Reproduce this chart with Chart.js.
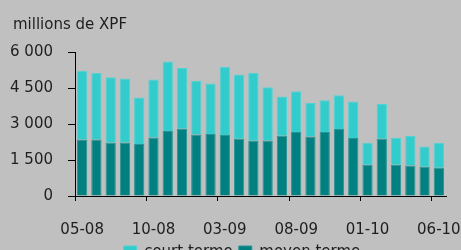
<!DOCTYPE html>
<html>
<head>
<meta charset="utf-8">
<script src="https://cdn.jsdelivr.net/npm/chart.js@4"></script>
<style>
  html,body{margin:0;padding:0;background:#c0c0c0;overflow:hidden}
  #wrap{width:461px;height:270px}
</style>
</head>
<body>
<div id="wrap"><canvas id="chart"></canvas></div>
<script>
const months = ["05-08","06-08","07-08","08-08","09-08","10-08","11-08","12-08",
  "01-09","02-09","03-09","04-09","05-09","06-09","07-09","08-09","09-09","10-09","11-09","12-09",
  "01-10","02-10","03-10","04-10","05-10","06-10"]
const moyenTerme = [2357,2357,2218,2230,2163,2442,2707,2805,2567,2581,2539,2386,2302,2316,2512,2665,2484,2665,2791,2414,1298,2386,1298,1270,1214,1172]
const courtTerme = [2863,2763,2735,2668,1939,2414,2902,2525,2233,2107,2847,2679,2819,2219,1632,1702,1395,1325,1409,1521,921,1451,1130,1228,851,1047]
const yTicks = [0,1500,3000,4500,6000]

const font = { family:"DejaVu Sans", size:15, weight:"normal" }
const textColor = "#1e1e1e"

function spaced(v){
  return String(v).replace(/\B(?=(\d{3})+(?!\d))/g," ")
}

// nudge title and legend sideways, like in the original layout
const nudge = {
  id:"nudge",
  afterLayout(chart){
    chart.titleBlock.left += 3
    chart.titleBlock.right += 3
    chart.legend.left += 14
    chart.legend.right += 14
  }
}

new Chart(document.getElementById("chart"),{
  type:"bar",
  data:{
    labels:months,
    datasets:[
      { label:"moyen terme", data:moyenTerme, backgroundColor:"#008080", borderColor:"#2b9494", borderWidth:1 },
      { label:"court terme", data:courtTerme, backgroundColor:"#33cccc", borderColor:"#4fd3d3", borderWidth:1 }
    ]
  },
  options:{
    responsive:true,
    maintainAspectRatio:false,
    animation:false,
    layout:{ padding:{ left:10, right:15, top:0, bottom:0 } },
    datasets:{ bar:{ categoryPercentage:1, barPercentage:0.72 } },
    scales:{
      x:{
        stacked:true,
        z:1,
        afterFit:a=>{ a.paddingLeft=0; a.paddingRight=0; a.height=43 },
        border:{ display:true, color:"#000", width:1 },
        grid:{
          offset:true,
          drawOnChartArea:false,
          drawTicks:true,
          tickLength:5,
          color:ctx=> ctx.index % 5 === 0 ? "#000" : "rgba(0,0,0,0)"
        },
        ticks:{
          autoSkip:false,
          maxRotation:0,
          color:textColor,
          font:font,
          padding:20,
          callback:(v,i)=> i % 5 === 0 ? months[i] : ""
        }
      },
      y:{
        stacked:true,
        min:0,
        max:6000,
        afterBuildTicks:axis=>{ axis.ticks = yTicks.map(v=>({ value:v })) },
        afterFit:a=>{ a.width=65 },
        border:{ display:true, color:"#000", width:1 },
        grid:{ drawOnChartArea:false, drawTicks:true, tickLength:7, color:"#000" },
        ticks:{ color:textColor, font:font, padding:15, callback:v=> spaced(v) }
      }
    },
    plugins:{
      title:{
        display:true,
        text:"millions de XPF",
        align:"start",
        color:textColor,
        font:font,
        padding:{ top:16, bottom:18 }
      },
      legend:{
        position:"bottom",
        reverse:true,
        labels:{ color:textColor, font:font, boxWidth:13, boxHeight:13, padding:6 }
      },
      tooltip:{ enabled:false }
    }
  },
  plugins:[nudge]
})
</script>
</body>
</html>
